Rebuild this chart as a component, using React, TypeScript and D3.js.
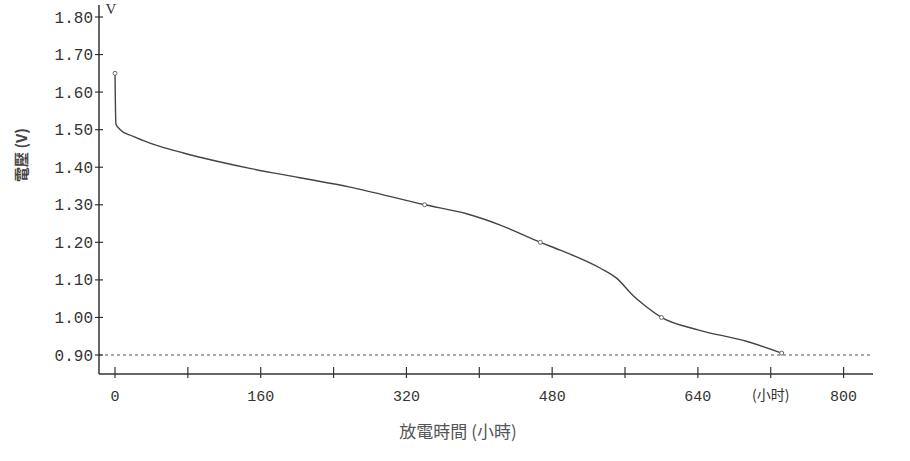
import React from "react";
import * as d3 from "d3";

const hours = [0, 1, 5, 20, 40, 75, 112, 148, 203, 258, 340, 386, 423, 467, 489, 533, 551, 569, 580, 600, 640, 694, 732];
const volts = [1.65, 1.515, 1.502, 1.482, 1.463, 1.438, 1.416, 1.397, 1.372, 1.347, 1.30, 1.276, 1.246, 1.20, 1.179, 1.131, 1.104, 1.058, 1.035, 1.00, 0.967, 0.936, 0.905];
const markerIdx = [0, 10, 13, 19, 22];
const yTicks = [0.9, 1.0, 1.1, 1.2, 1.3, 1.4, 1.5, 1.6, 1.7, 1.8];
const xMajorTicks = [0, 160, 320, 480, 640, 800];
const xMinorTicks = [80, 240, 400, 560, 720];
const cutoff = 0.9;

export default function App() {
  const W = 910, H = 461;
  const x = d3.scaleLinear().domain([0, 800]).range([115, 843.6]);
  const y = d3.scaleLinear().domain([0.9, 1.8]).range([355, 17]);
  const axisX = 99;
  const axisY = 374;
  const xEnd = 873;
  const data = hours.map((h, i) => [h, volts[i]] as [number, number]);
  const line = d3
    .line<[number, number]>()
    .x((d) => x(d[0]))
    .y((d) => y(d[1]))
    .curve(d3.curveMonotoneX);
  const monoFont = "'Liberation Mono', 'DejaVu Sans Mono', monospace";
  const cjkFont = "'Noto Sans CJK TC', 'Noto Sans CJK SC', sans-serif";
  return (
    <svg width={W} height={H} style={{ position: "fixed", left: 0, top: 0, background: "#fff" }}>
      <rect x={0} y={0} width={W} height={H} fill="#fff" />
      {/* cutoff dashed line */}
      <line x1={axisX} x2={xEnd} y1={y(cutoff)} y2={y(cutoff)} stroke="#555" strokeWidth={1} strokeDasharray="3,3" />
      {/* axes */}
      <line x1={axisX} x2={axisX} y1={5} y2={axisY} stroke="#333" strokeWidth={1.5} />
      <line x1={axisX} x2={xEnd} y1={axisY} y2={axisY} stroke="#333" strokeWidth={1.5} />
      {yTicks.map((t) => (
        <g key={"y" + t}>
          <line x1={95} x2={103} y1={y(t)} y2={y(t)} stroke="#333" strokeWidth={1.2} />
          <text x={93} y={y(t)} dy="0.35em" textAnchor="end" fontFamily={monoFont} fontSize={16} fill="#333">
            {t.toFixed(2)}
          </text>
        </g>
      ))}
      {[...xMajorTicks, ...xMinorTicks].map((t) => (
        <line key={"xt" + t} x1={x(t)} x2={x(t)} y1={axisY - 7} y2={axisY + 4} stroke="#333" strokeWidth={1.2} />
      ))}
      {xMajorTicks.map((t) => (
        <text key={"xl" + t} x={x(t)} y={396} dy="0.35em" textAnchor="middle" fontFamily={monoFont} fontSize={15} fill="#333">
          {t}
        </text>
      ))}
      <text x={x(720)} y={395} dy="0.35em" textAnchor="middle" fontFamily={cjkFont} fontSize={14} fill="#333">
        (小时)
      </text>
      <text x={111} y={14} textAnchor="middle" fontFamily="'Liberation Serif', serif" fontSize={15} fill="#333">
        V
      </text>
      {/* curve */}
      <path d={line(data) || ""} fill="none" stroke="#444" strokeWidth={1.4} />
      {markerIdx.map((i) => (
        <circle key={"m" + i} cx={x(hours[i])} cy={y(volts[i])} r={2} fill="#fff" stroke="#666" strokeWidth={1} />
      ))}
      {/* axis titles */}
      <text
        transform={`translate(22, 155) rotate(-90)`}
        textAnchor="middle"
        dy="0.35em"
        fontFamily={cjkFont}
        fontSize={15}
        fontWeight="bold"
        fill="#444"
      >
        電壓 (V)
      </text>
      <text x={458} y={438} textAnchor="middle" fontFamily={cjkFont} fontSize={17} fill="#555">
        放電時間 (小時)
      </text>
    </svg>
  );
}
